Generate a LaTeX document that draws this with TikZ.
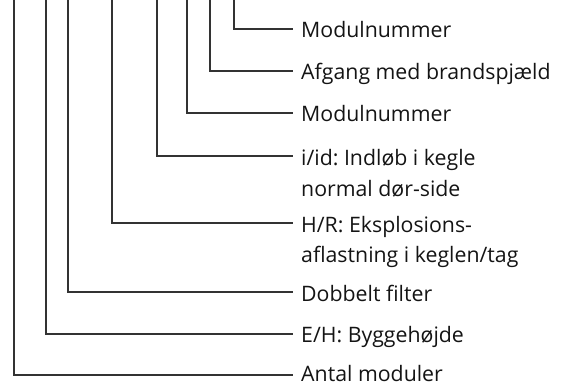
\documentclass[tikz,border=0pt]{standalone}
\usepackage{fontspec}
\setmainfont{Open Sans}
\frenchspacing
\begin{document}
\begin{tikzpicture}[x=1pt,y=1pt,
  conn/.style={draw=black!80, line width=1.1pt},
  lbl/.style={anchor=base west, inner sep=0pt, text=black!92, font=\fontsize{21.3}{30.5}\selectfont}]
\useasboundingbox (0,0) rectangle (565,-385);
% top ends of the vertical lines
\coordinate (t1) at (234,0);
\coordinate (t2) at (210,0);
\coordinate (t3) at (187,0);
\coordinate (t4) at (157,0);
\coordinate (t5) at (112,0);
\coordinate (t6) at (68,0);
\coordinate (t7) at (46,0);
\coordinate (t8) at (14,0);
% right ends of the horizontal lines
\coordinate (e1) at (293,-29);
\coordinate (e2) at (293,-71);
\coordinate (e3) at (293,-113);
\coordinate (e4) at (293,-156);
\coordinate (e5) at (293,-223);
\coordinate (e6) at (293,-292);
\coordinate (e7) at (293,-334);
\coordinate (e8) at (293,-375);
% labels
\node[lbl] (l1) at (301,-38) {Modulnummer};
\node[lbl] (l2) at (301,-80) {Afgang med brandspjæld};
\node[lbl] (l3) at (301,-122) {Modulnummer};
\node[lbl] (l4) at (301,-166) {\begin{tabular}[t]{@{}l@{}}i/id: Indløb i kegle\\normal dør-side\end{tabular}};
\node[lbl] (l5) at (301,-232) {\begin{tabular}[t]{@{}l@{}}H/R: Eksplosions-\\aflastning i keglen/tag\end{tabular}};
\node[lbl] (l6) at (301,-301) {Dobbelt filter};
\node[lbl] (l7) at (301,-342) {E/H: Byggehøjde};
\node[lbl] (l8) at (301,-381) {Antal moduler};
% connectors
\foreach \i in {1,...,8} \draw[conn] (t\i) |- (e\i);
\end{tikzpicture}
\end{document}
